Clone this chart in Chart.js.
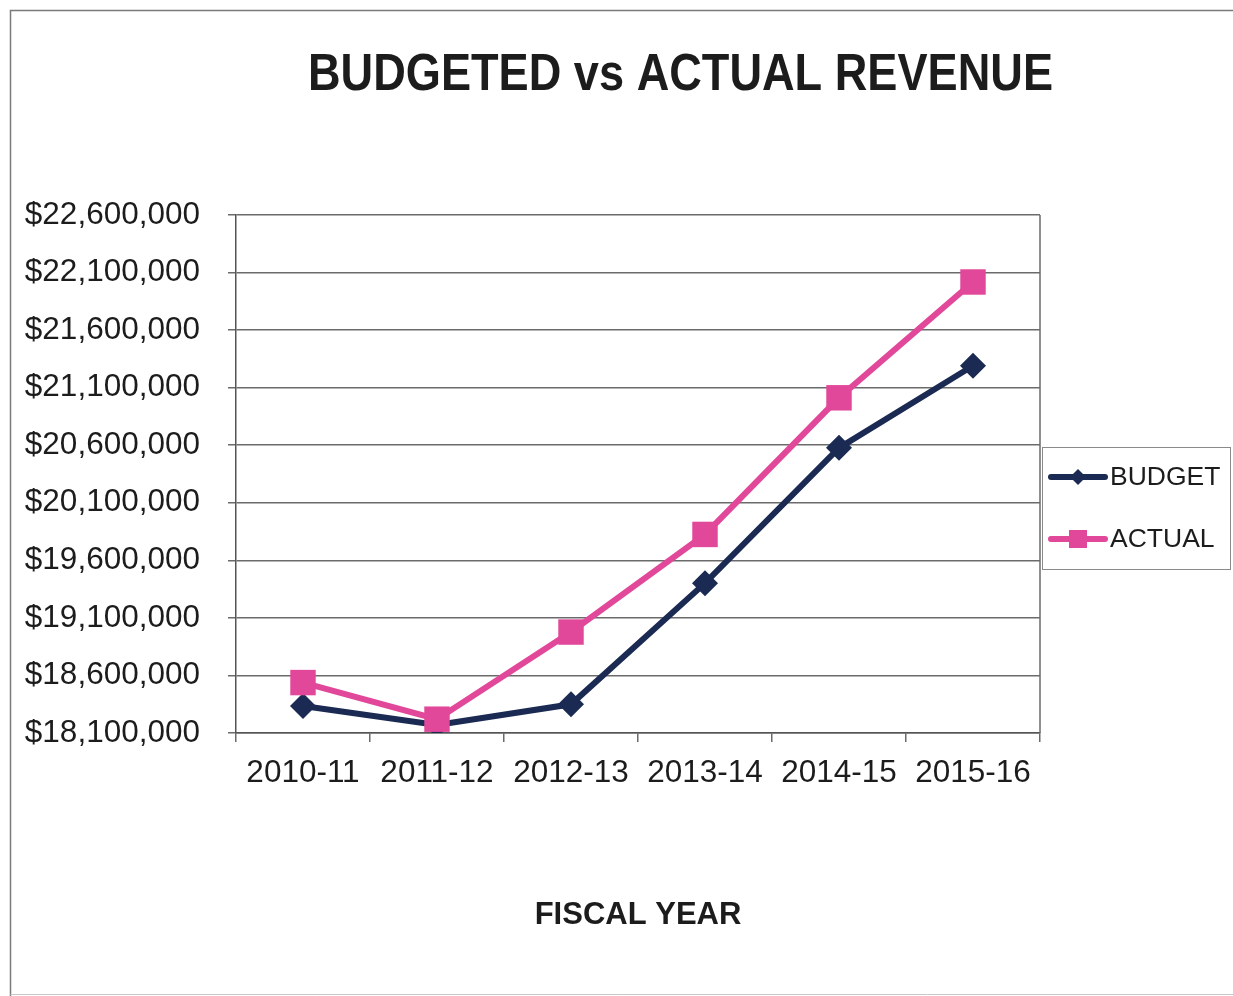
<!DOCTYPE html>
<html>
<head>
<meta charset="utf-8">
<title>Budgeted vs Actual Revenue</title>
<script src="https://cdn.jsdelivr.net/npm/chart.js@4.4.1/dist/chart.umd.min.js"></script>
<style>
  html, body { margin: 0; padding: 0; background: #ffffff; }
  #wrap { width: 1233px; height: 996px; position: relative; }
  canvas { display: block; }
</style>
</head>
<body>
<div id="wrap"><canvas id="revenue" width="1233" height="996"></canvas></div>
<script>
// Fiscal years on the category axis
const fiscalYears = ['2010-11', '2011-12', '2012-13', '2013-14', '2014-15', '2015-16'];

// Revenue per fiscal year, in dollars
const budgetRevenue = [18334000, 18170000, 18349000, 19402000, 20577000, 21290000];
const actualRevenue = [18538000, 18220000, 18977000, 19825000, 21012000, 22018000];

// Value axis range and spacing
const revenueMin = 18100000;
const revenueMax = 22600000;
const revenueStep = 500000;

const chartTitle = 'BUDGETED vs ACTUAL REVENUE';
const axisTitle = 'FISCAL YEAR';

const NAVY = '#1a2a52';
const PINK = '#e2489a';
const INK = '#1c1c1c';
const GRID = '#6b6b6b';
const FONT = 'Arial, "Liberation Sans", sans-serif';

const fmtDollars = v => '$' + Math.round(v).toLocaleString('en-US');

// Frame, title, plot box and legend drawn around the Chart.js plot
const decorations = {
  id: 'decorations',
  beforeDraw(chart) {
    const ctx = chart.ctx;
    ctx.save();
    ctx.fillStyle = '#ffffff';
    ctx.fillRect(0, 0, chart.width, chart.height);
    // outer frame of the chart sheet
    ctx.strokeStyle = '#7a7a7a';
    ctx.lineWidth = 1.5;
    ctx.beginPath();
    ctx.moveTo(10.5, chart.height);
    ctx.lineTo(10.5, 10.5);
    ctx.lineTo(chart.width, 10.5);
    ctx.stroke();
    ctx.strokeStyle = '#c8c8c8';
    ctx.lineWidth = 1;
    ctx.beginPath();
    ctx.moveTo(10.5, 994.5);
    ctx.lineTo(chart.width, 994.5);
    ctx.stroke();
    ctx.restore();
  },
  afterDraw(chart) {
    const ctx = chart.ctx;
    const area = chart.chartArea;
    ctx.save();

    // right edge of the plot box
    ctx.strokeStyle = GRID;
    ctx.lineWidth = 1.5;
    ctx.beginPath();
    ctx.moveTo(area.right, area.top);
    ctx.lineTo(area.right, area.bottom);
    ctx.stroke();

    // chart title, set in a condensed bold face
    ctx.font = 'bold 52px ' + FONT;
    ctx.fillStyle = INK;
    ctx.textAlign = 'center';
    ctx.textBaseline = 'alphabetic';
    const w = ctx.measureText(chartTitle).width;
    const sx = 745 / w;
    ctx.save();
    ctx.translate(680.5, 90);
    ctx.scale(sx, 1);
    ctx.fillText(chartTitle, 0, 0);
    ctx.restore();

    // legend box
    const lx = 1042.5, ly = 447.5, lw = 188, lh = 122;
    ctx.strokeStyle = '#8a8a8a';
    ctx.lineWidth = 1;
    ctx.strokeRect(lx, ly, lw, lh);

    const rows = [
      { ds: chart.data.datasets[0], y: 477 },
      { ds: chart.data.datasets[1], y: 539 }
    ];
    rows.forEach(r => {
      const c = r.ds.borderColor;
      ctx.strokeStyle = c;
      ctx.fillStyle = c;
      ctx.lineWidth = 6;
      ctx.lineCap = 'round';
      ctx.beginPath();
      ctx.moveTo(1051, r.y);
      ctx.lineTo(1105, r.y);
      ctx.stroke();
      const cx = 1078;
      if (r.ds.pointStyle === 'rectRot') {
        const d = 8;
        ctx.beginPath();
        ctx.moveTo(cx, r.y - d);
        ctx.lineTo(cx + d, r.y);
        ctx.lineTo(cx, r.y + d);
        ctx.lineTo(cx - d, r.y);
        ctx.closePath();
        ctx.fill();
      } else {
        const h = 9;
        ctx.fillRect(cx - h, r.y - h, 2 * h, 2 * h);
      }
      ctx.fillStyle = INK;
      ctx.font = '26.5px ' + FONT;
      ctx.textAlign = 'left';
      ctx.textBaseline = 'middle';
      ctx.fillText(r.ds.label, 1110, r.y + 1);
    });
    ctx.restore();
  }
};

new Chart(document.getElementById('revenue'), {
  type: 'line',
  data: {
    labels: fiscalYears,
    datasets: [
      {
        label: 'BUDGET',
        data: budgetRevenue,
        borderColor: NAVY,
        backgroundColor: NAVY,
        borderWidth: 6,
        pointStyle: 'rectRot',
        pointRadius: 13,
        pointHoverRadius: 13,
        pointBorderWidth: 0,
        tension: 0,
        order: 2
      },
      {
        label: 'ACTUAL',
        data: actualRevenue,
        borderColor: PINK,
        backgroundColor: PINK,
        borderWidth: 6,
        pointStyle: 'rect',
        pointRadius: 18,
        pointHoverRadius: 18,
        pointBorderWidth: 0,
        tension: 0,
        order: 1
      }
    ]
  },
  options: {
    responsive: false,
    animation: false,
    events: [],
    layout: { padding: { left: 10, right: 193, top: 215, bottom: 0 } },
    plugins: {
      legend: { display: false },
      title: { display: false },
      tooltip: { enabled: false }
    },
    scales: {
      x: {
        type: 'category',
        offset: true,
        grid: {
          display: true,
          offset: true,
          drawOnChartArea: false,
          drawTicks: true,
          tickLength: 9,
          color: GRID,
          lineWidth: 1.5
        },
        border: { display: true, color: '#555555', width: 1.5 },
        ticks: {
          color: INK,
          font: { family: FONT, size: 31.5 },
          padding: 12,
          maxRotation: 0,
          autoSkip: false
        },
        title: {
          display: true,
          text: axisTitle,
          color: INK,
          font: { family: FONT, size: 31, weight: 'bold' },
          padding: { top: 0, bottom: 62 }
        },
        afterFit(scale) { scale.height = 263; }
      },
      y: {
        min: revenueMin,
        max: revenueMax,
        grid: {
          color: GRID,
          lineWidth: 1.5,
          drawTicks: true,
          tickLength: 8
        },
        border: { display: true, color: '#555555', width: 1.5 },
        ticks: {
          stepSize: revenueStep,
          color: INK,
          font: { family: FONT, size: 31.5 },
          padding: 28,
          callback: v => fmtDollars(v)
        },
        afterFit(scale) { scale.width = 226; }
      }
    }
  },
  plugins: [decorations]
});
</script>
</body>
</html>
